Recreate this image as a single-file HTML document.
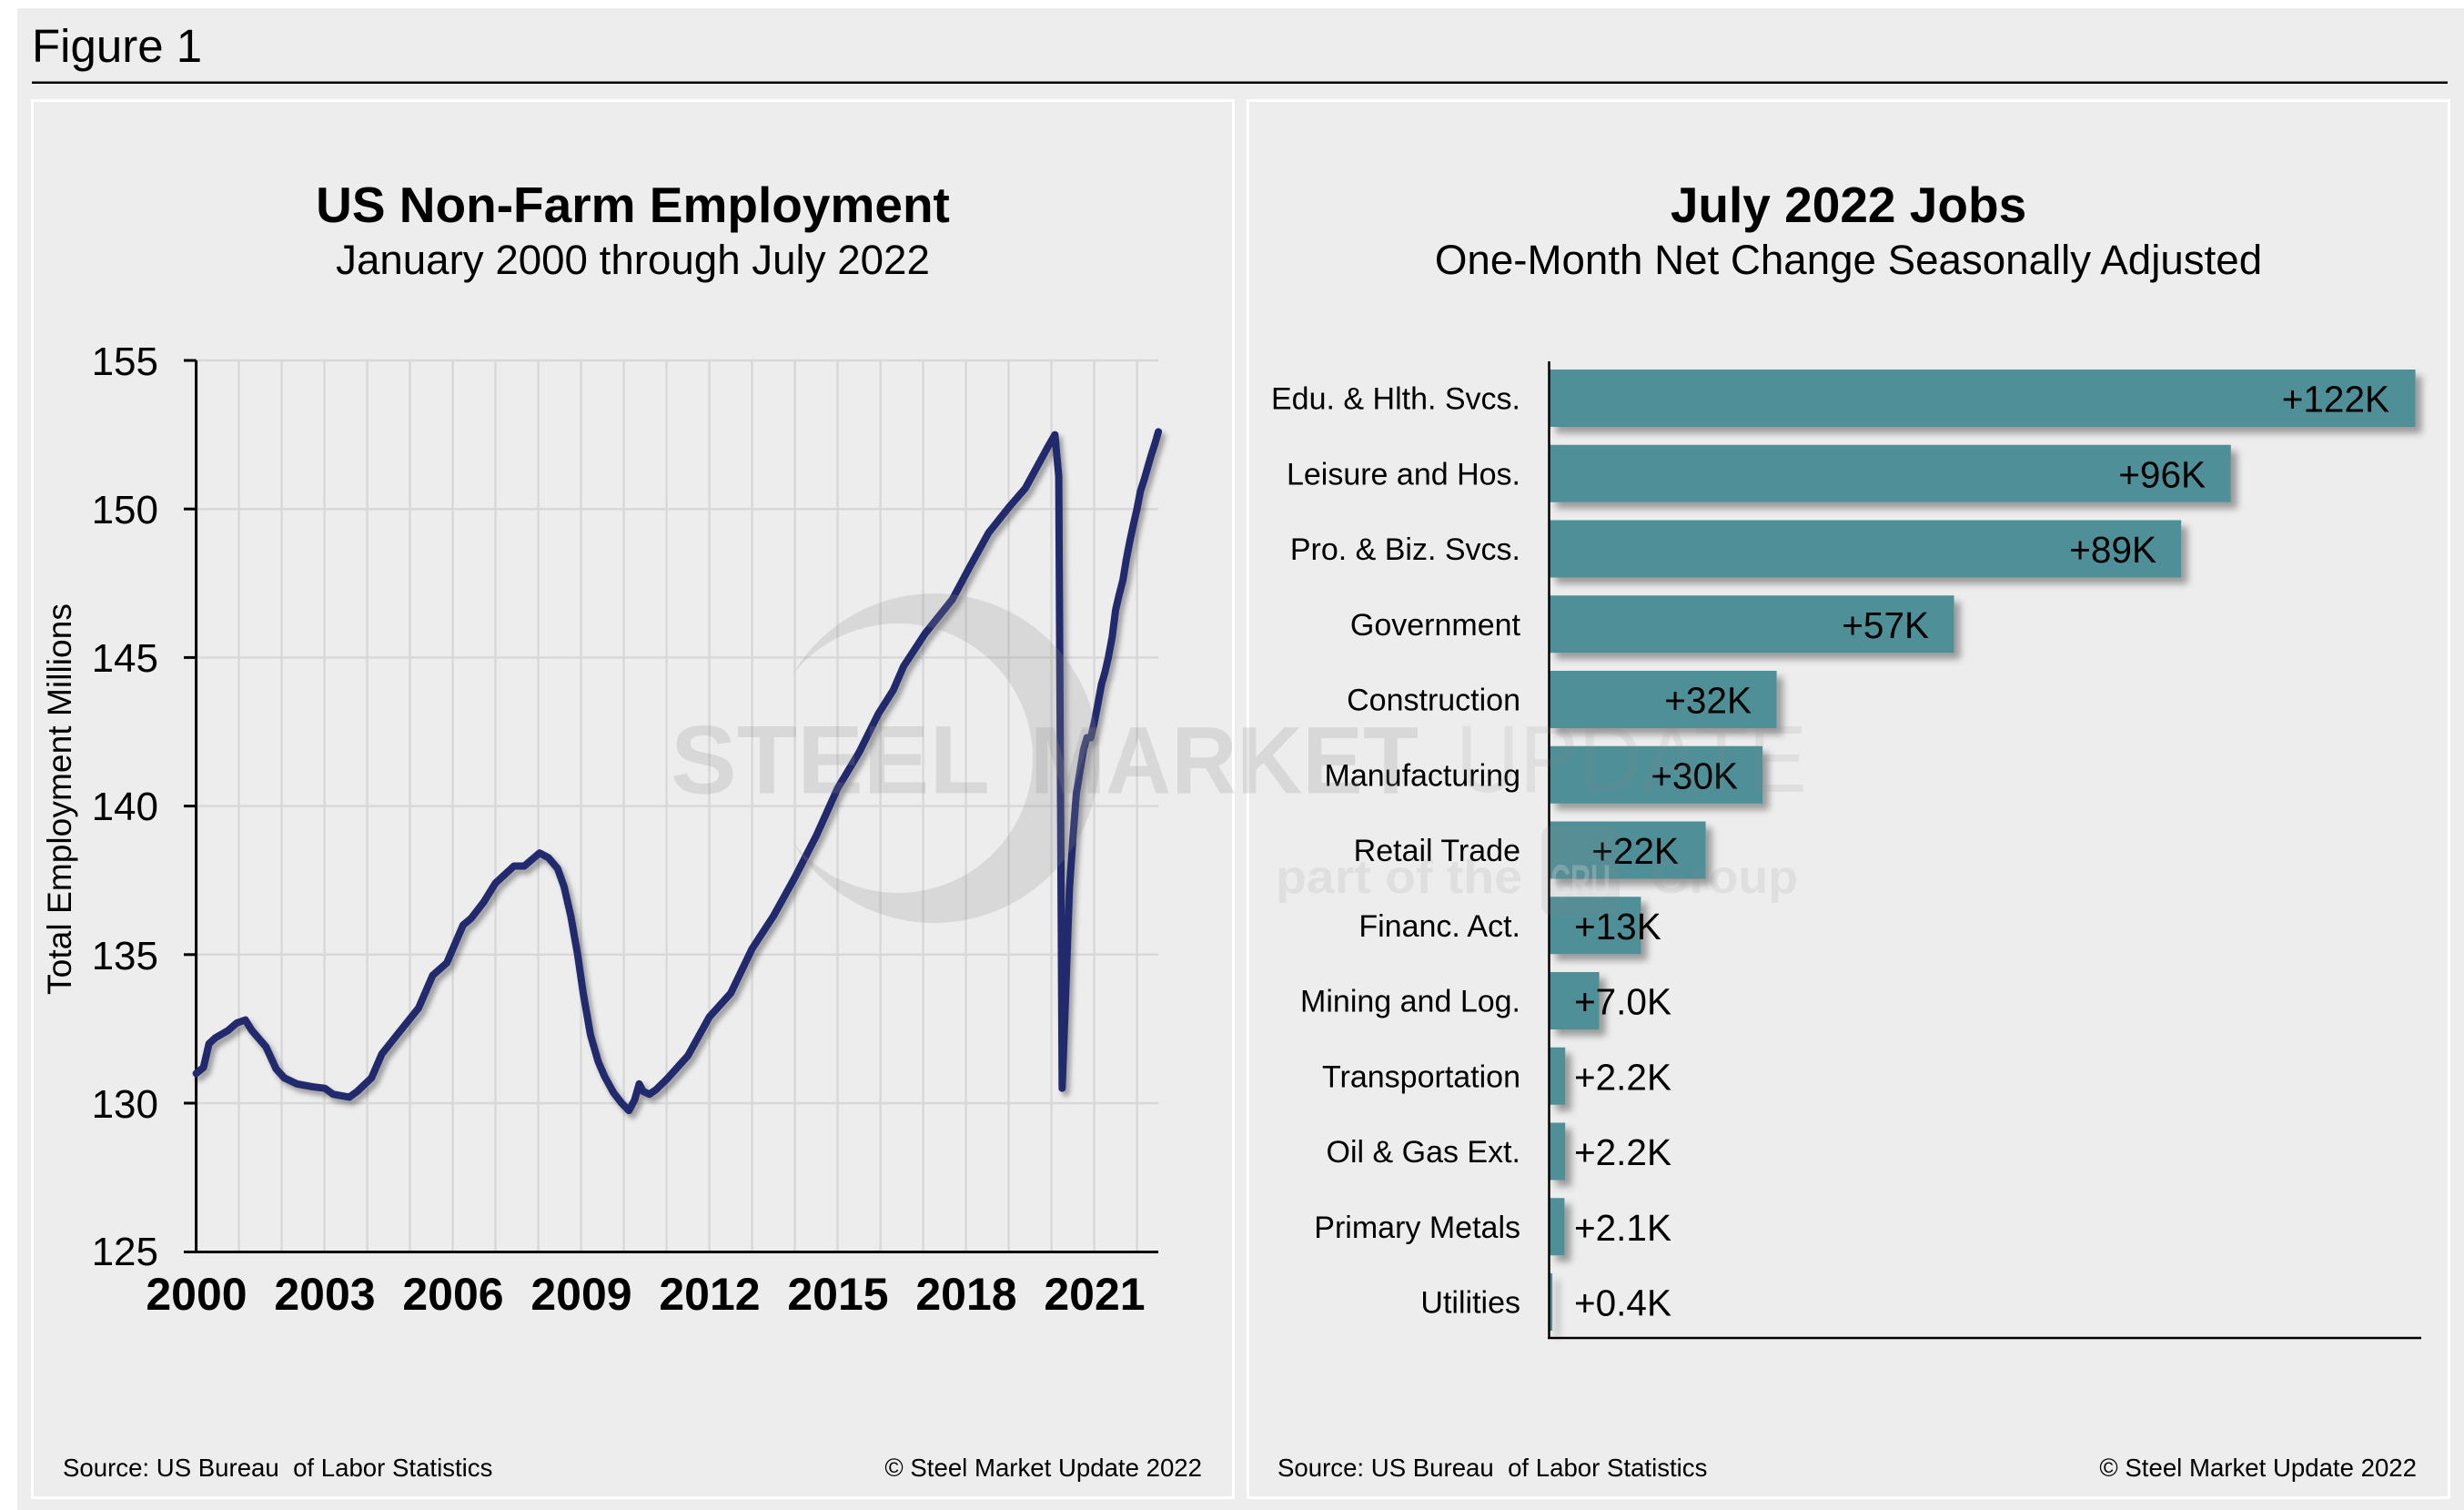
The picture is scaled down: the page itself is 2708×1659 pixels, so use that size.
<!DOCTYPE html>
<html>
<head>
<meta charset="utf-8">
<style>
  html,body{margin:0;padding:0;background:#ededed;}
  body{width:2708px;height:1659px;overflow:hidden;}
  svg{display:block;}
  text{font-family:"Liberation Sans",Arial,sans-serif;}
</style>
</head>
<body>
<svg width="2708" height="1659" viewBox="0 0 2708 1659" xmlns="http://www.w3.org/2000/svg">
  <defs>
    <filter id="ls" x="-5%" y="-5%" width="110%" height="110%">
      <feDropShadow dx="4" dy="5" stdDeviation="3" flood-color="#000" flood-opacity="0.35"/>
    </filter>
    <filter id="bs" x="-5%" y="-20%" width="115%" height="160%">
      <feDropShadow dx="7" dy="7" stdDeviation="4" flood-color="#000" flood-opacity="0.35"/>
    </filter>
  </defs>

  <!-- page background -->
  <rect x="0" y="0" width="2708" height="1659" fill="#ededed"/>
  <rect x="0" y="0" width="2708" height="9" fill="#ffffff"/>
  <rect x="0" y="0" width="19" height="1659" fill="#ffffff"/>

  <!-- Figure header -->
  <text x="35" y="68" font-size="51" fill="#000">Figure 1</text>
  <rect x="35" y="89.5" width="2655" height="2.5" fill="#000"/>

  <!-- Panels -->
  <rect x="35.5" y="110.5" width="1320" height="1535" fill="#ededed" stroke="#ffffff" stroke-width="3"/>
  <rect x="1371.5" y="110.5" width="1320" height="1535" fill="#ededed" stroke="#ffffff" stroke-width="3"/>

  <!-- ============ LEFT CHART ============ -->
  <text x="695.5" y="244" font-size="55" font-weight="bold" text-anchor="middle" fill="#000">US Non-Farm Employment</text>
  <text x="695.5" y="301" font-size="45.7" text-anchor="middle" fill="#000">January 2000 through July 2022</text>

  <!-- gridlines -->
  <g stroke="#d8d8d8" stroke-width="2.5">
    <line x1="215.6" y1="396" x2="1273" y2="396"/>
    <line x1="215.6" y1="559.2" x2="1273" y2="559.2"/>
    <line x1="215.6" y1="722.4" x2="1273" y2="722.4"/>
    <line x1="215.6" y1="885.6" x2="1273" y2="885.6"/>
    <line x1="215.6" y1="1048.8" x2="1273" y2="1048.8"/>
    <line x1="215.6" y1="1212" x2="1273" y2="1212"/>
    <line x1="262.6" y1="396" x2="262.6" y2="1375"/>
    <line x1="309.6" y1="396" x2="309.6" y2="1375"/>
    <line x1="356.6" y1="396" x2="356.6" y2="1375"/>
    <line x1="403.6" y1="396" x2="403.6" y2="1375"/>
    <line x1="450.6" y1="396" x2="450.6" y2="1375"/>
    <line x1="497.6" y1="396" x2="497.6" y2="1375"/>
    <line x1="544.6" y1="396" x2="544.6" y2="1375"/>
    <line x1="591.6" y1="396" x2="591.6" y2="1375"/>
    <line x1="638.6" y1="396" x2="638.6" y2="1375"/>
    <line x1="685.6" y1="396" x2="685.6" y2="1375"/>
    <line x1="732.6" y1="396" x2="732.6" y2="1375"/>
    <line x1="779.6" y1="396" x2="779.6" y2="1375"/>
    <line x1="826.6" y1="396" x2="826.6" y2="1375"/>
    <line x1="873.6" y1="396" x2="873.6" y2="1375"/>
    <line x1="920.6" y1="396" x2="920.6" y2="1375"/>
    <line x1="967.6" y1="396" x2="967.6" y2="1375"/>
    <line x1="1014.6" y1="396" x2="1014.6" y2="1375"/>
    <line x1="1061.6" y1="396" x2="1061.6" y2="1375"/>
    <line x1="1108.6" y1="396" x2="1108.6" y2="1375"/>
    <line x1="1155.6" y1="396" x2="1155.6" y2="1375"/>
    <line x1="1202.6" y1="396" x2="1202.6" y2="1375"/>
    <line x1="1249.6" y1="396" x2="1249.6" y2="1375"/>
  </g>

  <!-- axes -->
  <g stroke="#000" stroke-width="3">
    <line x1="215.6" y1="396" x2="215.6" y2="1376.5"/>
    <line x1="202" y1="1375.5" x2="1273" y2="1375.5"/>
    <line x1="202" y1="396" x2="215.6" y2="396"/>
    <line x1="202" y1="559.2" x2="215.6" y2="559.2"/>
    <line x1="202" y1="722.4" x2="215.6" y2="722.4"/>
    <line x1="202" y1="885.6" x2="215.6" y2="885.6"/>
    <line x1="202" y1="1048.8" x2="215.6" y2="1048.8"/>
    <line x1="202" y1="1212" x2="215.6" y2="1212"/>
  </g>

  <!-- y tick labels -->
  <g font-size="44" text-anchor="end" fill="#000">
    <text x="174" y="412">155</text>
    <text x="174" y="575">150</text>
    <text x="174" y="738">145</text>
    <text x="174" y="901">140</text>
    <text x="174" y="1065">135</text>
    <text x="174" y="1228">130</text>
    <text x="174" y="1390">125</text>
  </g>

  <!-- x tick labels -->
  <g font-size="50" font-weight="bold" text-anchor="middle" fill="#000">
    <text x="216" y="1439">2000</text>
    <text x="357" y="1439">2003</text>
    <text x="498" y="1439">2006</text>
    <text x="639" y="1439">2009</text>
    <text x="780" y="1439">2012</text>
    <text x="921" y="1439">2015</text>
    <text x="1062" y="1439">2018</text>
    <text x="1203" y="1439">2021</text>
  </g>

  <!-- y axis title -->
  <text transform="translate(78,878) rotate(-90)" font-size="37.2" text-anchor="middle" fill="#000">Total Employment Millions</text>

  <!-- data line -->
  <g filter="url(#ls)">
    <polyline transform="translate(215.6,396) scale(47,32.64)" vector-effect="non-scaling-stroke"
      fill="none" stroke="#212a6e" stroke-width="8" stroke-linejoin="round" stroke-linecap="round"
      points="0,24 0.17,23.8 0.3,23 0.45,22.8 0.75,22.55 0.95,22.3 1.15,22.2 1.3,22.55 1.63,23.1 1.87,23.85 2.06,24.15 2.35,24.35 2.73,24.45 3.01,24.5 3.2,24.7 3.58,24.8 3.77,24.6 4.1,24.15 4.34,23.35 4.67,22.75 4.91,22.32 5.2,21.8 5.53,20.7 5.86,20.28 6.24,19.01 6.43,18.78 6.72,18.24 7,17.59 7.43,17.02 7.67,17.02 8.03,16.58 8.24,16.74 8.45,17.1 8.6,17.7 8.76,18.7 8.92,20 9.05,21.3 9.22,22.7 9.4,23.6 9.55,24.1 9.76,24.65 9.95,25 10.12,25.25 10.25,24.9 10.36,24.35 10.45,24.6 10.6,24.7 10.75,24.55 11,24.2 11.5,23.4 12,22.1 12.5,21.3 13,19.8 13.5,18.7 14,17.4 14.5,16 15,14.4 15.5,13.2 15.95,11.9 16.3,11.1 16.54,10.3 17.04,9.2 17.68,8.05 18.07,7 18.53,5.8 19.03,4.9 19.39,4.3 19.92,2.9 20.08,2.5 20.17,3.9 20.25,24.5 20.33,21.4 20.42,17.8 20.5,16.1 20.58,14.6 20.67,13.8 20.75,13.1 20.83,12.7 20.92,12.7 21,12.2 21.08,11.6 21.17,10.9 21.25,10.5 21.33,10 21.42,9.3 21.5,8.4 21.58,7.9 21.67,7.4 21.75,6.7 21.83,6.1 21.92,5.5 22,5 22.08,4.4 22.17,4 22.25,3.6 22.33,3.2 22.42,2.8 22.5,2.4"/>
  </g>

  <!-- left footer -->
  <text x="69" y="1622" font-size="27.6" fill="#000" xml:space="preserve">Source: US Bureau  of Labor Statistics</text>
  <text x="1321" y="1622" font-size="27.6" text-anchor="end" fill="#000">© Steel Market Update 2022</text>

  <!-- ============ RIGHT CHART ============ -->
  <text x="2031.5" y="244" font-size="55" font-weight="bold" text-anchor="middle" fill="#000">July 2022 Jobs</text>
  <text x="2031.5" y="301" font-size="45.7" text-anchor="middle" fill="#000">One-Month Net Change Seasonally Adjusted</text>

  <!-- bars -->
  <g fill="#508f98" filter="url(#bs)">
    <rect x="1703" y="406" width="951.6" height="63"/>
    <rect x="1703" y="488.75" width="748.8" height="63"/>
    <rect x="1703" y="571.5" width="694.2" height="63"/>
    <rect x="1703" y="654.25" width="444.6" height="63"/>
    <rect x="1703" y="737" width="249.6" height="63"/>
    <rect x="1703" y="819.75" width="234" height="63"/>
    <rect x="1703" y="902.5" width="171.6" height="63"/>
    <rect x="1703" y="985.25" width="100.4" height="63"/>
    <rect x="1703" y="1068" width="54.6" height="63"/>
    <rect x="1703" y="1150.75" width="17.2" height="63"/>
    <rect x="1703" y="1233.5" width="17.2" height="63"/>
    <rect x="1703" y="1316.25" width="16.4" height="63"/>
    <rect x="1703" y="1399" width="3.1" height="63"/>
  </g>

  <!-- bar axes -->
  <g stroke="#000" stroke-width="2.5">
    <line x1="1702.5" y1="397" x2="1702.5" y2="1471"/>
    <line x1="1701" y1="1470" x2="2661" y2="1470"/>
  </g>

  <!-- category labels -->
  <g font-size="34" text-anchor="end" fill="#000">
    <text x="1671" y="449.5">Edu. &amp; Hlth. Svcs.</text>
    <text x="1671" y="532.25">Leisure and Hos.</text>
    <text x="1671" y="615">Pro. &amp; Biz. Svcs.</text>
    <text x="1671" y="697.75">Government</text>
    <text x="1671" y="780.5">Construction</text>
    <text x="1671" y="863.25">Manufacturing</text>
    <text x="1671" y="946">Retail Trade</text>
    <text x="1671" y="1028.75">Financ. Act.</text>
    <text x="1671" y="1111.5">Mining and Log.</text>
    <text x="1671" y="1194.25">Transportation</text>
    <text x="1671" y="1277">Oil &amp; Gas Ext.</text>
    <text x="1671" y="1359.75">Primary Metals</text>
    <text x="1671" y="1442.5">Utilities</text>
  </g>

  <!-- value labels -->
  <g font-size="40.5" fill="#000">
    <text x="2626" y="452.5" text-anchor="end">+122K</text>
    <text x="2424" y="535.25" text-anchor="end">+96K</text>
    <text x="2370" y="618" text-anchor="end">+89K</text>
    <text x="2120" y="700.75" text-anchor="end">+57K</text>
    <text x="1925" y="783.5" text-anchor="end">+32K</text>
    <text x="1910" y="866.25" text-anchor="end">+30K</text>
    <text x="1845" y="949" text-anchor="end">+22K</text>
    <text x="1730" y="1031.75">+13K</text>
    <text x="1730" y="1114.5">+7.0K</text>
    <text x="1730" y="1197.25">+2.2K</text>
    <text x="1730" y="1280">+2.2K</text>
    <text x="1730" y="1362.75">+2.1K</text>
    <text x="1730" y="1445.5">+0.4K</text>
  </g>

  <!-- right footer -->
  <text x="1404" y="1622" font-size="27.6" fill="#000" xml:space="preserve">Source: US Bureau  of Labor Statistics</text>
  <text x="2656" y="1622" font-size="27.6" text-anchor="end" fill="#000">© Steel Market Update 2022</text>

  <!-- ============ WATERMARK ============ -->
  <g fill="rgb(140,140,140)" fill-opacity="0.22">
    <path d="M 871 741 A 181 181 0 1 1 871 925 A 148 148 0 1 0 871 741 Z"/>
    <text x="737" y="871.5" font-size="107" font-weight="bold" textLength="351" lengthAdjust="spacingAndGlyphs">STEEL</text>
    <text x="1132" y="871.5" font-size="105" font-weight="bold" textLength="427" lengthAdjust="spacingAndGlyphs">MARKET</text>
  </g>
  <g fill="rgb(140,140,140)" fill-opacity="0.14">
    <text x="1600" y="870" font-size="105" textLength="386" lengthAdjust="spacingAndGlyphs">UPDATE</text>
    <text x="1402" y="981" font-size="52" font-weight="bold" textLength="271" lengthAdjust="spacingAndGlyphs">part of the</text>
    <rect x="1694" y="907" width="86" height="99" rx="12" ry="12"/>
    <text x="1815" y="981" font-size="52" font-weight="bold" textLength="161" lengthAdjust="spacingAndGlyphs">Group</text>
  </g>
  <text x="1737" y="985" font-size="50" font-weight="bold" text-anchor="middle" fill="rgb(237,237,237)" fill-opacity="0.25" textLength="66" lengthAdjust="spacingAndGlyphs">CRU</text>
</svg>
</body>
</html>
